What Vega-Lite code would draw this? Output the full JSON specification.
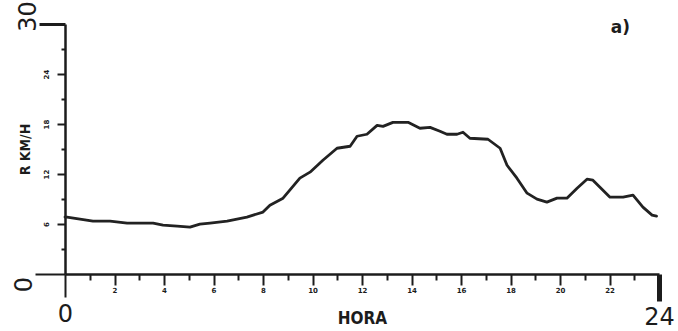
{
  "$schema": "https://vega.github.io/schema/vega-lite/v6.json",
  "width": 594,
  "height": 250,
  "autosize": "none",
  "padding": {"left": 65, "top": 24, "right": 19, "bottom": 57},
  "background": "white",
  "config": {
    "view": {"stroke": null},
    "axis": {"grid": false, "domainColor": "#1c1c1c", "tickColor": "#1c1c1c", "labelColor": "#1c1c1c", "titleColor": "#1c1c1c"}
  },
  "title": {
    "text": "a)",
    "anchor": "end",
    "frame": "group",
    "orient": "top",
    "offset": 0,
    "dx": -29,
    "dy": 36,
    "font": "DejaVu Sans",
    "fontSize": 17,
    "fontWeight": "bold",
    "color": "#1c1c1c"
  },
  "data": {
    "values": [
      {"hora": 0.0, "kmh": 6.83},
      {"hora": 0.08, "kmh": 6.83},
      {"hora": 1.13, "kmh": 6.35},
      {"hora": 1.82, "kmh": 6.35},
      {"hora": 2.51, "kmh": 6.11},
      {"hora": 3.56, "kmh": 6.11},
      {"hora": 3.96, "kmh": 5.87},
      {"hora": 4.53, "kmh": 5.75},
      {"hora": 5.05, "kmh": 5.63},
      {"hora": 5.45, "kmh": 5.99},
      {"hora": 5.86, "kmh": 6.11},
      {"hora": 6.55, "kmh": 6.35},
      {"hora": 7.35, "kmh": 6.83},
      {"hora": 8.0, "kmh": 7.43},
      {"hora": 8.28, "kmh": 8.26},
      {"hora": 8.81, "kmh": 9.1},
      {"hora": 9.49, "kmh": 11.5},
      {"hora": 9.9, "kmh": 12.22},
      {"hora": 10.42, "kmh": 13.65},
      {"hora": 10.99, "kmh": 15.09},
      {"hora": 11.52, "kmh": 15.33},
      {"hora": 11.8, "kmh": 16.53},
      {"hora": 12.2, "kmh": 16.77},
      {"hora": 12.61, "kmh": 17.84},
      {"hora": 12.85, "kmh": 17.72},
      {"hora": 13.25, "kmh": 18.2},
      {"hora": 13.86, "kmh": 18.2},
      {"hora": 14.34, "kmh": 17.49},
      {"hora": 14.75, "kmh": 17.6},
      {"hora": 15.15, "kmh": 17.13},
      {"hora": 15.43, "kmh": 16.77},
      {"hora": 15.84, "kmh": 16.77},
      {"hora": 16.08, "kmh": 17.01},
      {"hora": 16.36, "kmh": 16.29},
      {"hora": 17.09, "kmh": 16.17},
      {"hora": 17.58, "kmh": 15.09},
      {"hora": 17.86, "kmh": 13.05},
      {"hora": 18.26, "kmh": 11.5},
      {"hora": 18.67, "kmh": 9.7},
      {"hora": 19.07, "kmh": 8.98},
      {"hora": 19.47, "kmh": 8.62},
      {"hora": 19.88, "kmh": 9.1},
      {"hora": 20.28, "kmh": 9.1},
      {"hora": 20.69, "kmh": 10.3},
      {"hora": 21.09, "kmh": 11.38},
      {"hora": 21.33, "kmh": 11.26},
      {"hora": 22.02, "kmh": 9.22},
      {"hora": 22.55, "kmh": 9.22},
      {"hora": 22.95, "kmh": 9.46},
      {"hora": 23.35, "kmh": 8.02},
      {"hora": 23.72, "kmh": 7.07},
      {"hora": 23.9, "kmh": 6.95}
    ]
  },
  "mark": {"type": "line", "color": "#222222", "strokeWidth": 2.8, "strokeJoin": "round", "strokeCap": "round"},
  "encoding": {
    "x": {
      "field": "hora",
      "type": "quantitative",
      "scale": {"domain": [0, 24], "nice": false, "zero": false},
      "axis": {
        "values": [0, 1, 2, 3, 4, 5, 6, 7, 8, 9, 10, 11, 12, 13, 14, 15, 16, 17, 18, 19, 20, 21, 22, 23, 24],
        "labelExpr": "datum.value % 2 ? '' : datum.label",
        "labelOverlap": false,
        "labelFlush": false,
        "labelBound": false,
        "labelAngle": 0,
        "labelAlign": "center",
        "labelBaseline": "top",
        "labelFont": "DejaVu Sans",
        "labelFontSize": {"condition": {"test": "datum.value == 0 || datum.value == 24", "value": 24}, "value": 7},
        "labelFontWeight": {"condition": {"test": "datum.value == 0 || datum.value == 24", "value": "normal"}, "value": "bold"},
        "labelPadding": {"condition": [{"test": "datum.value == 0", "value": 5}, {"test": "datum.value == 24", "value": 4}], "value": 1},
        "tickSize": {"condition": [{"test": "datum.value == 0", "value": 23}, {"test": "datum.value == 24", "value": 27}, {"test": "datum.value % 2", "value": 6}], "value": 11},
        "tickWidth": {"condition": [{"test": "datum.value == 24", "value": 5}], "value": 2},
        "domainWidth": 2.5,
        "title": "HORA",
        "titleFont": "DejaVu Sans Condensed",
        "titleFontSize": 17,
        "titleFontWeight": "bold",
        "titleX": 297,
        "titleY": 49,
        "titleAlign": "center",
        "titleBaseline": "alphabetic"
      }
    },
    "y": {
      "field": "kmh",
      "type": "quantitative",
      "scale": {"domain": [0, 30], "nice": false, "zero": false},
      "axis": {
        "values": [0, 3, 6, 9, 12, 15, 18, 21, 24, 27, 30],
        "labelExpr": "datum.value % 6 ? '' : datum.label",
        "labelOverlap": false,
        "labelFlush": false,
        "labelBound": false,
        "labelAngle": -90,
        "labelAlign": "center",
        "labelBaseline": "alphabetic",
        "labelFont": "DejaVu Sans",
        "labelFontSize": {"condition": {"test": "datum.value == 0 || datum.value == 30", "value": 24}, "value": 7},
        "labelFontWeight": {"condition": {"test": "datum.value == 0 || datum.value == 30", "value": "normal"}, "value": "bold"},
        "labelPadding": {"condition": [{"test": "datum.value == 0", "value": 4}, {"test": "datum.value == 30", "value": 4}], "value": 9},
        "labelOffset": {"condition": [{"test": "datum.value == 0", "value": 10}, {"test": "datum.value == 30", "value": -8}], "value": 0},
        "tickSize": {"condition": [{"test": "datum.value == 0", "value": 30}, {"test": "datum.value == 30", "value": 26}, {"test": "datum.value % 6", "value": 4}], "value": 8},
        "tickWidth": {"condition": [{"test": "datum.value == 30", "value": 3}], "value": 2},
        "domainWidth": 2.5,
        "title": "R KM/H",
        "titleFont": "DejaVu Sans Condensed",
        "titleFontSize": 14,
        "titleFontWeight": "bold",
        "titleAngle": -90,
        "titleX": -36,
        "titleY": 125,
        "titleAlign": "center",
        "titleBaseline": "alphabetic"
      }
    }
  }
}
